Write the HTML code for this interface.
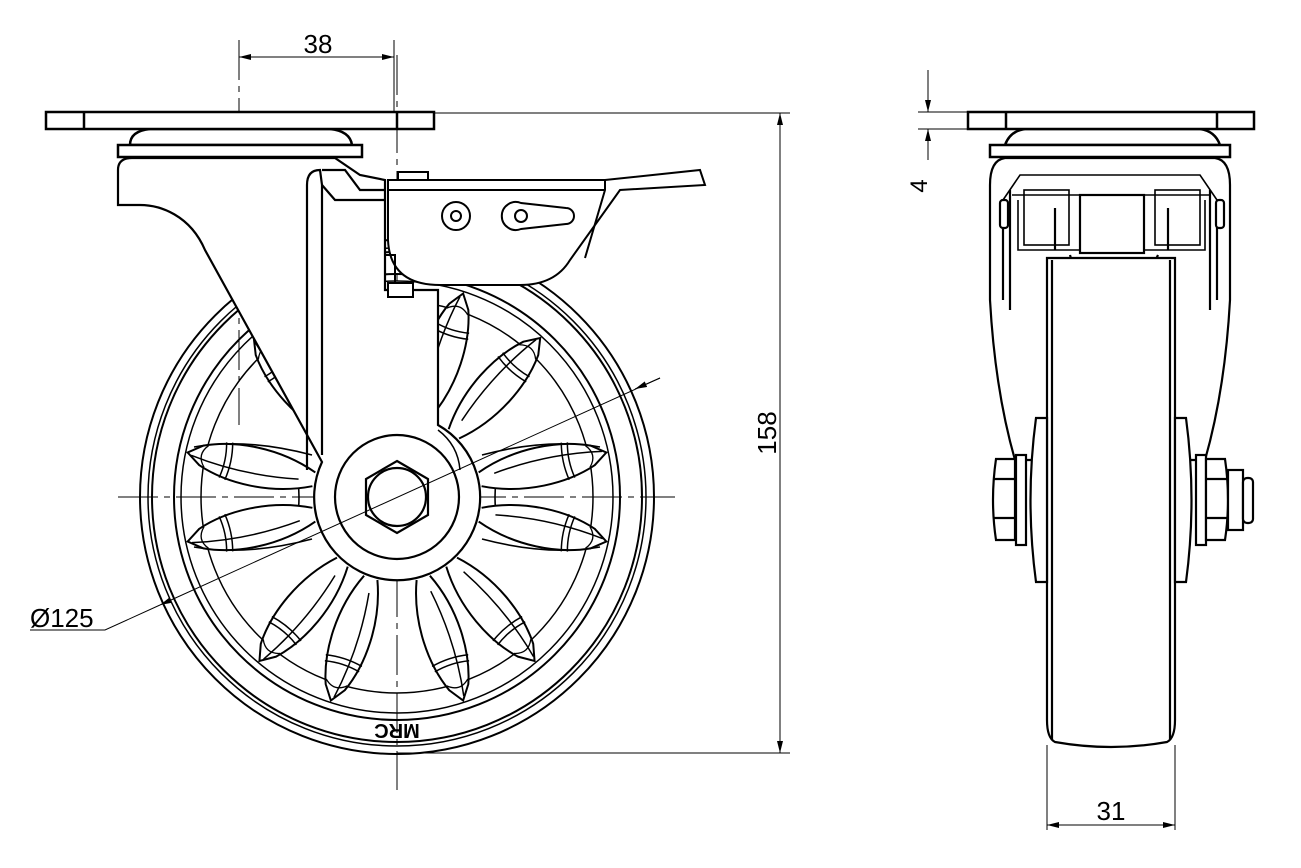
<!DOCTYPE html>
<html><head><meta charset="utf-8"><style>
html,body{margin:0;padding:0;background:#fff;width:1301px;height:868px;overflow:hidden}
svg{display:block}
text{font-family:"Liberation Sans",sans-serif;fill:#000}
</style></head><body>
<svg width="1301" height="868" viewBox="0 0 1301 868" xmlns="http://www.w3.org/2000/svg">
<defs>
<marker id="ar" viewBox="0 0 12 6" refX="12" refY="3" markerWidth="12" markerHeight="6" orient="auto-start-reverse" markerUnits="userSpaceOnUse"><path d="M0,0 L12,3 L0,6 z" fill="#000"/></marker>
<g id="sp" fill="none" stroke="#000" stroke-width="2">
<path d="M85,-7 C125,-24 170,-22 200,-10 L214,0 L200,10 C170,22 125,24 85,7" fill="#fff"/>
<path d="M100,-3 C140,-9 175,-8 210,-2" stroke-width="1.5"/>
<path d="M172,-19 Q168,0 172,19 M178,-18 Q174,0 178,18" stroke-width="1.5"/>
<path d="M195,-11 Q205,0 195,11" stroke-width="1.3"/>
</g>
</defs>

<!-- center lines front -->
<g stroke="#000" stroke-width="1" fill="none">
<line x1="118" y1="497" x2="675" y2="497" stroke-dasharray="40,6,6,6"/>
<line x1="397" y1="55" x2="397" y2="790" stroke-dasharray="40,6,6,6"/>
<line x1="239" y1="40" x2="239" y2="425" stroke-dasharray="40,6,6,6"/>
</g>

<!-- wheel -->
<g fill="none" stroke="#000" stroke-width="2">
<circle cx="397" cy="497" r="257"/>
<circle cx="397" cy="497" r="249" stroke-width="1.5"/>
<circle cx="397" cy="497" r="245"/>
<circle cx="397" cy="497" r="223"/>
<circle cx="397" cy="497" r="216" stroke-width="1.5"/>
<circle cx="397" cy="497" r="196" stroke-width="1.5"/>
</g>
<g fill="none" stroke="#000" stroke-width="1.6">
<path d="M482,455 C520,445 560,440 600,447 M482,539 C520,549 560,554 600,547 M500,460 Q490,497 500,534"/>
<path d="M312,455 C274,445 234,440 194,447 M312,539 C274,549 234,554 194,547 M294,460 Q304,497 294,534"/>
</g>
<g transform="translate(397,497)">
<use href="#sp" transform="rotate(-12)"/><use href="#sp" transform="rotate(12)"/>
<use href="#sp" transform="rotate(168)"/><use href="#sp" transform="rotate(192)"/>
<use href="#sp" transform="rotate(50)"/><use href="#sp" transform="rotate(72)"/>
<use href="#sp" transform="rotate(108)"/><use href="#sp" transform="rotate(130)"/>
<use href="#sp" transform="rotate(-48)"/><use href="#sp" transform="rotate(-72)"/>
<use href="#sp" transform="rotate(-108)"/><use href="#sp" transform="rotate(-132)"/>
</g>
<text x="397" y="738" font-size="20" font-weight="bold" text-anchor="middle" transform="rotate(180 397 731)">MRC</text>

<!-- fork / housing -->
<g stroke="#000" stroke-width="2.2" fill="#fff">
<path d="M118,205 L118,170 Q118,158 132,158 L335,158 L360,175 L385,180 L385,290 L438,290 L438,425 A83,83 0 1 1 322,462 L205,250 C190,215 160,205 140,205 Z"/>
<path d="M307,470 L307,185 Q307,170 320,170 L322,185 L322,455" fill="none"/>
<path d="M322,170 L345,170 L360,190 L385,190" fill="none"/>
<path d="M322,185 L335,200 L385,200" fill="none"/>
<path d="M438,430 Q458,445 460,470" fill="none" stroke-width="1.5"/>
<circle cx="397" cy="497" r="62" fill="none"/>
<polygon points="397,461 428,479 428,515 397,533 366,515 366,479"/>
<circle cx="397" cy="497" r="29"/>
</g>
<!-- plates -->
<g stroke="#000" stroke-width="2.5" fill="#fff">
<path d="M130,145 Q130,131 150,129 L330,129 Q350,131 352,145 Z"/>
<rect x="118" y="145" width="244" height="12"/>
<rect x="46" y="112" width="388" height="17"/>
<line x1="84" y1="112" x2="84" y2="129"/>
<line x1="397" y1="112" x2="397" y2="129"/>
</g>
<!-- brake -->
<g stroke="#000" stroke-width="2" fill="#fff">
<rect x="398" y="172" width="30" height="8"/>
<path d="M388,180 L605,180 L700,170 L705,185 L620,190 L570,260 Q555,285 520,285 L440,285 Q390,285 388,240 Z"/>
<line x1="388" y1="190" x2="605" y2="190"/>
<path d="M605,180 L605,190 L585,258" fill="none"/>
<path d="M385,255 L395,255 L395,297 L412,297 L412,282" fill="none"/>
<rect x="388" y="283" width="25" height="14"/>
<circle cx="456" cy="216" r="14"/><circle cx="456" cy="216" r="5"/>
<path d="M521,203 A14,14 0 1 0 521,229 L566,224 A6,6 0 0 0 566,208 Z"/>
<circle cx="521" cy="216" r="6"/>
</g>

<!-- dims front -->
<g stroke="#000" stroke-width="1" fill="none">
<line x1="394" y1="40" x2="394" y2="112"/>
<line x1="239" y1="57" x2="394" y2="57" marker-start="url(#ar)" marker-end="url(#ar)"/>
<line x1="434" y1="113" x2="790" y2="113"/>
<line x1="397" y1="753" x2="790" y2="753"/>
<line x1="780" y1="113" x2="780" y2="753" marker-start="url(#ar)" marker-end="url(#ar)"/>
<line x1="660" y1="378" x2="160" y2="605" marker-end="url(#ar)"/>
<line x1="635" y1="389" x2="660" y2="378" marker-start="url(#ar)"/>
<polyline points="30,630 105,630 160,605"/>
</g>
<text x="318" y="53" font-size="26" text-anchor="middle">38</text>
<text x="0" y="0" font-size="26" text-anchor="middle" transform="translate(776,433) rotate(-90)">158</text>
<text x="30" y="627" font-size="26">Ø125</text>

<!-- side view -->
<g stroke="#000" stroke-width="2.2" fill="#fff">
<path d="M990,185 Q990,160 1005,158 L1215,158 Q1230,160 1230,185 L1230,300 Q1225,390 1205,460 L1015,460 Q995,390 990,300 Z"/>
<path d="M1003,300 L1003,200 M1010,310 L1010,190 M1217,300 L1217,200 M1210,310 L1210,190" fill="none"/>
<path d="M1003,200 L1020,175 L1200,175 L1217,200 M1012,195 L1210,195 M1018,200 L1018,250 L1205,250 L1205,200" fill="none" stroke-width="1.6"/>
<rect x="1080" y="195" width="64" height="58"/>
<path d="M1070,255 L1075,272 L1150,272 L1158,255" fill="none"/>
<rect x="1024" y="190" width="45" height="55" fill="none" stroke-width="1.6"/>
<rect x="1155" y="190" width="45" height="55" fill="none" stroke-width="1.6"/>
<line x1="1055" y1="208" x2="1055" y2="250"/><line x1="1168" y1="208" x2="1168" y2="250"/>
<rect x="1000" y="200" width="8" height="28" rx="3"/><rect x="1216" y="200" width="8" height="28" rx="3"/>
<path d="M1047,258 L1047,720 Q1047,738 1055,742 Q1111,752 1167,742 Q1175,738 1175,720 L1175,258 Z"/>
<line x1="1052" y1="260" x2="1052" y2="740"/><line x1="1170" y1="260" x2="1170" y2="740"/>
<path d="M1036,418 L1047,418 L1047,582 L1036,582 Q1025,500 1036,418 Z"/>
<path d="M1186,418 L1175,418 L1175,582 L1186,582 Q1197,500 1186,418 Z"/>
<rect x="1016" y="455" width="10" height="90"/><rect x="1196" y="455" width="10" height="90"/>
<path d="M996,459 L1015,459 L1015,540 L996,540 Q990,500 996,459 Z"/>
<line x1="993" y1="479" x2="1015" y2="479"/><line x1="993" y1="518" x2="1015" y2="518"/>
<path d="M1206,459 L1225,459 Q1231,500 1225,540 L1206,540 Z"/>
<line x1="1206" y1="479" x2="1228" y2="479"/><line x1="1206" y1="518" x2="1228" y2="518"/>
<rect x="1228" y="470" width="15" height="60"/>
<rect x="1243" y="478" width="10" height="45" rx="4"/>
</g>
<g stroke="#000" stroke-width="2.5" fill="#fff">
<path d="M1005,145 Q1010,131 1025,129 L1200,129 Q1215,131 1220,145 Z"/>
<rect x="990" y="145" width="240" height="12"/>
<rect x="968" y="112" width="286" height="17"/>
<line x1="1006" y1="112" x2="1006" y2="129"/>
<line x1="1217" y1="112" x2="1217" y2="129"/>
</g>
<!-- dims side -->
<g stroke="#000" stroke-width="1" fill="none">
<line x1="918" y1="112" x2="968" y2="112"/>
<line x1="918" y1="129" x2="968" y2="129"/>
<line x1="928" y1="70" x2="928" y2="112" marker-end="url(#ar)"/>
<line x1="928" y1="160" x2="928" y2="129" marker-end="url(#ar)"/>
<line x1="1047" y1="745" x2="1047" y2="830"/>
<line x1="1175" y1="745" x2="1175" y2="830"/>
<line x1="1047" y1="825" x2="1175" y2="825" marker-start="url(#ar)" marker-end="url(#ar)"/>
</g>
<text x="0" y="0" font-size="24" text-anchor="middle" transform="translate(927,186) rotate(-90)">4</text>
<text x="1111" y="820" font-size="26" text-anchor="middle">31</text>
</svg>
</body></html>
